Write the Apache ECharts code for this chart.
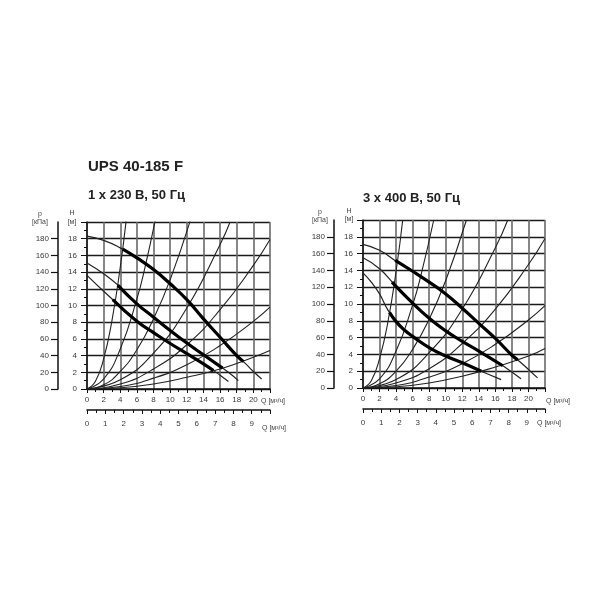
<!DOCTYPE html>
<html><head><meta charset="utf-8">
<script src="https://cdn.jsdelivr.net/npm/echarts@6/dist/echarts.min.js"></script>
<style>html,body{margin:0;padding:0;background:#fff}#c{width:600px;height:600px}</style>
</head><body><div id="c"></div><script>
// ---- data (Q in m3/h, H in m) ----
const L_pump3 = [[0,18.3],[2,17.8],[4,16.9],[6,15.7],[8,14.3],[10,12.6],[12,10.7],[14,8.4],[16,6.2],[18,4.0],[19,3.1],[20,2.1],[21,1.2]];
const L_pump3Thick = [[4.3,16.75],[6,15.7],[8,14.3],[10,12.6],[12,10.7],[14,8.4],[16,6.2],[18,4.0],[18.8,3.3]];
const L_pump2 = [[0,15.1],[2,13.8],[4,12.2],[6,10.2],[8,8.6],[10,7.0],[12,5.5],[14,4.1],[16,2.7],[17,2.0],[18.2,1.0]];
const L_pump2Thick = [[3.7,12.45],[6,10.2],[8,8.6],[10,7.0],[12,5.5],[14,4.1],[16.3,2.5]];
const L_pump1 = [[0,13.6],[2,11.7],[4,9.9],[6,8.1],[8,6.75],[10,5.45],[12,4.25],[14,3.0],[15,2.35],[16,1.65],[17,0.9]];
const L_pump1Thick = [[3.1,10.7],[6,8.1],[8,6.75],[10,5.45],[12,4.25],[14,3.0],[15.2,2.2]];
const L_sys1 = [[0,0],[1,0.9],[2,3.6],[3,8.2],[4,14.6],[4.7,20.1]];
const L_sys2 = [[0,0],[2,1.2],[4,4.8],[6,10.8],[7,14.7],[8.2,20.2]];
const L_sys3 = [[0,0],[2,0.5],[4,2.1],[6,4.7],[8,8.4],[10,13.1],[12.4,20.1]];
const L_sys4 = [[0,0],[4,1.1],[8,4.3],[12,9.7],[16,17.3],[17.2,20]];
const L_sys5 = [[0,0],[4,0.6],[8,2.4],[12,5.3],[16,9.5],[20,14.8],[22,17.9]];
const L_sys6 = [[0,0],[4,0.3],[8,1.3],[12,2.9],[16,5.2],[20,8.1],[22,9.8]];
const L_sys7 = [[0,0],[4,0.15],[8,0.6],[12,1.4],[16,2.4],[20,3.8],[22,4.6]];

const R_pump3 = [[0,17.1],[2,16.4],[4,15.1],[6,13.9],[8,12.6],[10,11.2],[12,9.5],[14,7.7],[16,5.9],[18,3.9],[19,3.1],[20,2.2],[21.1,1.2]];
const R_pump3Thick = [[3.9,15.2],[6,13.9],[8,12.6],[10,11.2],[12,9.5],[14,7.7],[16,5.9],[18,3.9],[18.7,3.35]];
const R_pump2 = [[0,15.5],[2,14.2],[4,12.1],[6,10.1],[8,8.3],[10,6.8],[12,5.55],[14,4.4],[16,3.2],[17,2.6],[19.1,1.1]];
const R_pump2Thick = [[3.5,12.6],[6,10.1],[8,8.3],[10,6.8],[12,5.55],[14,4.4],[16.9,2.65]];
const R_pump1 = [[0,13.7],[1,12.6],[2,11.2],[3,9.3],[4,7.9],[5,6.9],[6,6.15],[8,4.8],[10,3.8],[12,3.0],[14,2.1],[15,1.7],[16.7,1.0]];
const R_pump1Thick = [[3.2,9.0],[4,7.9],[5,6.9],[6,6.15],[8,4.8],[10,3.8],[12,3.0],[14.3,2.0]];
const R_sys1 = [[0,0],[1,0.87],[2,3.5],[3,7.8],[4,13.9],[4.8,20]];
const R_sys2 = [[0,0],[2,1.1],[4,4.4],[6,9.9],[7,13.4],[8.55,20]];
const R_sys3 = [[0,0],[2,0.5],[4,2.0],[6,4.6],[8,8.2],[10,12.8],[12.5,20]];
const R_sys4 = [[0,0],[4,1.0],[8,4.2],[12,9.4],[16,16.7],[17.5,20]];
const R_sys5 = [[0,0],[4,0.6],[8,2.3],[12,5.3],[16,9.4],[20,14.7],[22,17.8]];
const R_sys6 = [[0,0],[4,0.3],[8,1.3],[12,2.9],[16,5.2],[20,8.1],[22,9.8]];
const R_sys7 = [[0,0],[4,0.15],[8,0.6],[12,1.4],[16,2.5],[20,3.8],[22,4.7]];

const title = 'UPS 40-185 F';
const leftSubtitle = '1 x 230 В, 50 Гц';
const rightSubtitle = '3 x 400 В, 50 Гц';
const qUnit = 'Q [м³/ч]';
const qUnit2 = 'Q [м³/ч]';

const FONT = 'Liberation Sans';
const lbl = {fontSize: 8, color: '#3a3a3a', fontFamily: FONT};

function qAxis(g) {
  return {type:'value', gridIndex:g, min:0, max:22, interval:2, position:'bottom',
    axisLine:{show:true, onZero:false, lineStyle:{color:'#111', width:1.5}},
    axisTick:{show:true, length:4, lineStyle:{color:'#111'}},
    minorTick:{show:true, splitNumber:2, length:3, lineStyle:{color:'#111'}},
    minorSplitLine:{show:false},
    axisLabel:Object.assign({margin:7, showMaxLabel:false}, lbl),
    splitLine:{show:true, lineStyle:{color:'#6a6a6a', width:1.6}}};
}
function lsAxis(g) {
  return {type:'value', gridIndex:g, min:0, max:10, interval:1, position:'bottom', offset:21,
    axisLine:{show:true, onZero:false, lineStyle:{color:'#111', width:1.5}},
    axisTick:{show:true, length:4, lineStyle:{color:'#111'}},
    minorTick:{show:true, splitNumber:2, length:3, lineStyle:{color:'#111'}},
    minorSplitLine:{show:false},
    axisLabel:Object.assign({margin:10, showMaxLabel:false}, lbl),
    splitLine:{show:false}};
}
function hAxis(g) {
  return {type:'value', gridIndex:g, min:0, max:20, interval:2, position:'left',
    axisLine:{show:true, onZero:false, lineStyle:{color:'#111', width:1.5}},
    axisTick:{show:true, length:6, lineStyle:{color:'#111'}},
    minorTick:{show:true, splitNumber:2, length:3, lineStyle:{color:'#111'}},
    minorSplitLine:{show:false},
    axisLabel:Object.assign({margin:10, showMaxLabel:false}, lbl),
    splitLine:{show:true, lineStyle:{color:'#1a1a1a', width:1.3}}};
}
function pAxis(g) {
  return {type:'value', gridIndex:g, min:0, max:200, interval:20, position:'left', offset:29,
    axisLine:{show:true, onZero:false, lineStyle:{color:'#111', width:1.5}},
    axisTick:{show:true, length:7, lineStyle:{color:'#111', width:1.2}},
    axisLabel:Object.assign({margin:9, showMaxLabel:false}, lbl),
    splitLine:{show:false}};
}
function line(data, xi, yi, w, c) {
  return {type:'line', data:data, xAxisIndex:xi, yAxisIndex:yi, smooth:0.5, symbol:'none',
    silent:true, lineStyle:{width:w, color:c, cap:'butt', join:'round'}, z: w > 2 ? 5 : 3};
}
const thin = 1.2, thick = 3.2, sysW = 1.1;
const series = [];
[L_sys1,L_sys2,L_sys3,L_sys4,L_sys5,L_sys6,L_sys7].forEach(d => series.push(line(d,0,0,sysW,'#222')));
[L_pump1,L_pump2,L_pump3].forEach(d => series.push(line(d,0,0,thin,'#222')));
[L_pump1Thick,L_pump2Thick,L_pump3Thick].forEach(d => series.push(line(d,0,0,thick,'#000')));
[R_sys1,R_sys2,R_sys3,R_sys4,R_sys5,R_sys6,R_sys7].forEach(d => series.push(line(d,2,2,sysW,'#222')));
[R_pump1,R_pump2,R_pump3].forEach(d => series.push(line(d,2,2,thin,'#222')));
[R_pump1Thick,R_pump2Thick,R_pump3Thick].forEach(d => series.push(line(d,2,2,thick,'#000')));

function txt(s, x, y, size, bold) {
  return {type:'text', left:x, top:y, style:{text:s, fill:'#222', font:(bold?'bold ':'')+size+'px "'+FONT+'"'}};
}
function ctxt(s, cx, cy, size) {
  return {type:'text', x:cx, y:cy, style:{text:s, fill:'#444', font:size+'px "'+FONT+'"', align:'center', verticalAlign:'middle'}};
}
function utxt(s, x, y) {
  return {type:'text', x:x, y:y, style:{text:s, fill:'#444', font:'7px "'+FONT+'"', verticalAlign:'middle'}};
}

const chart = echarts.init(document.getElementById('c'));
chart.setOption({
  animation:false,
  backgroundColor:'#fff',
  grid:[{left:87, top:222, width:183, height:167}, {left:363, top:220, width:182, height:168}],
  xAxis:[qAxis(0), lsAxis(0), qAxis(1), lsAxis(1)],
  yAxis:[hAxis(0), pAxis(0), hAxis(1), pAxis(1)],
  series:series,
  graphic:[
    txt(title, 88, 159, 15, true),
    txt(leftSubtitle, 88, 189, 13, true),
    txt(rightSubtitle, 363, 192, 13, true),
    ctxt('p', 40, 214, 7), ctxt('[кПа]', 40, 222, 7),
    ctxt('H', 72, 213, 7), ctxt('[м]', 72, 222, 7),
    ctxt('p', 320, 212, 7), ctxt('[кПа]', 320, 220, 7),
    ctxt('H', 349, 211, 7), ctxt('[м]', 349, 219, 7),
    utxt(qUnit, 261, 401), utxt(qUnit2, 262, 428),
    utxt(qUnit, 546, 401), utxt(qUnit2, 537, 423)
  ]
});
</script></body></html>
